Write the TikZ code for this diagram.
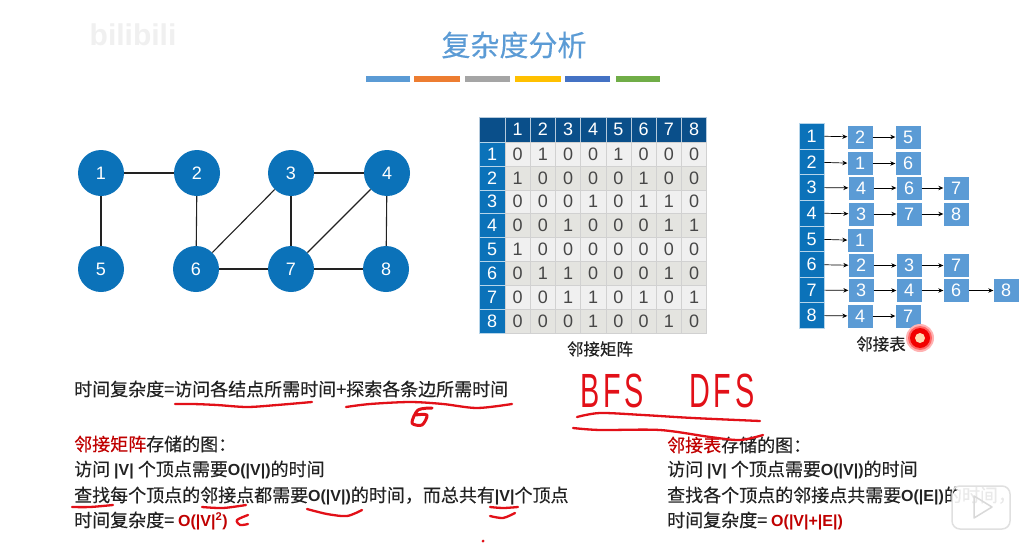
\documentclass[tikz,border=0pt]{standalone}
\usepackage{fontspec}
\setmainfont{Liberation Sans}
\newfontfamily\cjk{Noto Sans CJK SC}[FakeBold=0.3]
\newfontfamily\liber{Liberation Sans}
\newfontfamily\handfont{Liberation Sans}[LetterSpace=12]
\usepackage{xcolor}
\usetikzlibrary{arrows.meta,calc,positioning}
\definecolor{nodeblue}{RGB}{11,114,185}
\definecolor{headblue}{RGB}{10,79,138}
\definecolor{listblue}{RGB}{91,155,213}
\definecolor{rowlight}{RGB}{240,240,240}
\definecolor{rowdark}{RGB}{228,228,224}
\definecolor{inkdark}{RGB}{34,34,34}
\definecolor{darkred}{RGB}{192,0,0}
\definecolor{penred}{RGB}{226,16,24}
\newcommand{\latb}[1]{{\liber\bfseries\fontsize{16}{20}\selectfont #1}}
\tikzset{
  vertex/.style={circle,fill=nodeblue,text=white,minimum size=46pt,inner sep=0pt,font=\liber\fontsize{18}{18}\selectfont},
  edge/.style={draw=inkdark,line width=1.1pt},
  cell/.style={minimum width=25.25pt,minimum height=24pt,inner sep=0pt,draw=black!18,line width=.5pt,text=black!72,font=\liber\fontsize{18}{18}\selectfont},
  headcell/.style={cell,fill=headblue,draw=white!70!headblue,text=white},
  sidecell/.style={cell,fill=nodeblue,draw=white!70!nodeblue,text=white},
  headlist/.style={minimum width=25pt,minimum height=25.7pt,inner sep=0pt,fill=nodeblue,draw=white!70!nodeblue,line width=.5pt,text=white,font=\liber\fontsize{18}{18}\selectfont},
  listbox/.style={minimum width=25pt,minimum height=23pt,inner sep=0pt,fill=listblue,text=white,font=\liber\fontsize{18}{18}\selectfont},
  link/.style={-{Stealth[length=5pt,width=4.5pt]},black,line width=.7pt},
  txt/.style={anchor=west,inner sep=0pt,text=inkdark,font=\cjk\fontsize{18}{20}\selectfont},
  caption/.style={inner sep=0pt,text=inkdark,font=\cjk\fontsize{16.5}{18}\selectfont},
  pen/.style={penred,line width=2.3pt,line cap=round,line join=round},
  hand/.style={inner sep=0pt,text=penred,xscale=.6,transform shape,font=\handfont\fontsize{48}{48}\selectfont}
}
\begin{document}
\begin{tikzpicture}[x=1pt,y=-1pt]
  \fill[white] (0,0) rectangle (1032,551);
  \useasboundingbox (0,0) rectangle (1032,551);
  % heading
  \node[text=black!6,inner sep=0pt,font=\liber\bfseries\fontsize{30}{30}\selectfont] (mark) at (133,35) {bilibili};
  \node[inner sep=0pt,text=listblue,font=\cjk\fontsize{29}{30}\selectfont] (title) at (514,45) {复杂度分析};
  \foreach \xa/\xb/\barcol in {366/410/5B9BD5,414/460/ED7D31,465/510/A5A5A5,515/561/FFC000,565/610/4472C4,616/660/70AD47}{
    \definecolor{barcol}{HTML}{\barcol}
    \fill[barcol] (\xa,76) rectangle (\xb,82);
  }
  % graph
  \foreach \n/\nx/\ny in {1/101/173,2/197/173,3/291/173,4/387/173,5/101/269,6/196/269,7/291/269,8/386/269}
    \node[vertex] (v\n) at (\nx,\ny) {\n};
  \foreach \a/\b in {1/2,1/5,2/6,3/4,3/6,3/7,4/7,4/8,6/7,7/8}
    \draw[edge] (v\a) -- (v\b);
  % adjacency matrix
  \node[headcell,minimum width=26pt,minimum height=25pt] (corner) at (492,129.5) {};
  \foreach \j in {1,...,8}
    \node[headcell,minimum height=25pt] (top\j) at ({505+25.2*(\j-.5)},129.5) {\j};
  \foreach \rw [count=\i] in {{0,1,0,0,1,0,0,0},{1,0,0,0,0,1,0,0},{0,0,0,1,0,1,1,0},{0,0,1,0,0,0,1,1},
                              {1,0,0,0,0,0,0,0},{0,1,1,0,0,0,1,0},{0,0,1,1,0,1,0,1},{0,0,0,1,0,0,1,0}}{
    \pgfmathsetmacro{\cy}{142+23.9*(\i-.5)}
    \pgfmathtruncatemacro{\odd}{mod(\i,2)}
    \ifnum\odd=1 \def\rowfill{rowlight}\else \def\rowfill{rowdark}\fi
    \node[sidecell,minimum width=26pt] (side\i) at (492,\cy) {\i};
    \foreach \val [count=\j] in \rw
      \node[cell,fill=\rowfill] (m\i-\j) at ({505+25.2*(\j-.5)},\cy) {\val};
  }
  \node[caption] (matcap) at (600,349) {邻接矩阵};
  % adjacency list
  \foreach \n/\ny in {1/136,2/162,3/187.5,4/213,5/239,6/264.5,7/290,8/315.5}
    \node[headlist] (row\n) at (811.5,\ny) {\n};
  \foreach \id/\txtv/\nx/\ny in {a1/2/860/137,a2/5/908/137,b1/1/860/163.5,b2/6/908/163.5,
      c1/4/861/188,c2/6/909/188,c3/7/956/188,d1/3/861/214,d2/7/909/214,d3/8/956/214,
      e1/1/860/240.5,f1/2/861/265.5,f2/3/909/265.5,f3/7/956/265.5,
      g1/3/861/290.5,g2/4/909/290.5,g3/6/956/290.5,g4/8/1006/290.5,k1/4/860/316,k2/7/908/316}
    \node[listbox] (\id) at (\nx,\ny) {\txtv};
  \foreach \a/\b in {row1/a1,a1/a2,row2/b1,b1/b2,row3/c1,c1/c2,c2/c3,row4/d1,d1/d2,d2/d3,row5/e1,
      row6/f1,f1/f2,f2/f3,row7/g1,g1/g2,g2/g3,g3/g4,row8/k1,k1/k2}
    \draw[link] (\a) -- (\b);
  \node[caption] (listcap) at (881,344) {邻接表};
  % text lines
  \node[txt] (sum) at (74,389) {时间复杂度=访问各结点所需时间+探索各条边所需时间};
  \node[txt] (ml1) at (74,444) {\textcolor{darkred}{邻接矩阵}存储的图：};
  \node[txt] (ml2) at (74,470) {访问 \latb{|V|} 个顶点需要\latb{O(|V|)}的时间};
  \node[txt] (ml3) at (74,496) {查找每个顶点的邻接点都需要\latb{O(|V|)}的时间，而总共有\latb{|V|}个顶点};
  \node[txt] (ml4) at (74,521) {时间复杂度= \textcolor{darkred}{\latb{O(|V|\textsuperscript{2})}}};
  \node[txt] (rl1) at (667,445) {\textcolor{darkred}{邻接表}存储的图：};
  \node[txt] (rl2) at (667,470) {访问 \latb{|V|} 个顶点需要\latb{O(|V|)}的时间};
  \node[txt] (rl3) at (667,496) {查找各个顶点的邻接点共需要\latb{O(|E|)}的时间，};
  \node[txt] (rl4) at (667,521) {时间复杂度= \textcolor{darkred}{\latb{O(|V|+|E|)}}};
  % handwriting
  \node[hand] (bfs) at (612,391) {BFS};
  \node[hand] (dfs) at (722,391) {DFS};
  \draw[pen] plot[smooth] coordinates {(175,404)(193,404)(217,405)(247,407)(277,405)(312,402)};
  \draw[pen] plot[smooth] coordinates {(346,407)(370,404)(410,402)(443,404)(477,408)(512,404)};
  \draw[pen,line width=3pt] plot[smooth] coordinates {(432,408)(418,410)(412,423)(422,425)(427,415)(415,415)};
  \draw[pen] plot[smooth] coordinates {(72,507)(90,507)(113,505)};
  \draw[pen] plot[smooth] coordinates {(202,507)(223,508)(246,505)};
  \draw[pen] plot[smooth] coordinates {(307,509)(327,514)(347,516)(362,510)};
  \draw[pen] plot[smooth] coordinates {(490,507)(503,508)(518,507)};
  \draw[pen] plot[smooth] coordinates {(490,516)(503,518)(515,513)};
  \draw[pen] plot[smooth] coordinates {(248,515)(237,520)(240,525)(248,524)};
  \draw[pen] plot[smooth] coordinates {(577,417)(600,413)(643,415)(693,418)(760,421)};
  \draw[pen] plot[smooth] coordinates {(573,428)(600,430)(660,430)(710,437)(740,440)(763,435)};
  \fill[penred] (483,541) circle (1.5pt);
  % pointer
  \fill[red!30] (920,338) circle (14pt);
  \fill[red!60] (920,338) circle (12pt);
  \fill[red!95!black] (920,338) circle (10pt);
  \fill[orange!30] (920,338) circle (5pt);
  % player logo
  \fill[white,opacity=.9] (964,477) -- (972,486) -- (990,486) -- (998,477) -- (1003,480) -- (1000,487) -- (1010,495) -- (1010,520) -- (1002,529) -- (960,529) -- (952,520) -- (952,495) -- (960,487) -- (961,480) -- cycle;
  \draw[black!12,line width=1.5pt,rounded corners=8pt] (952,486) rectangle (1010,529);
  \draw[black!15,line width=1.5pt,line join=round] (974,496) -- (992,507) -- (974,518) -- cycle;
\end{tikzpicture}
\end{document}
